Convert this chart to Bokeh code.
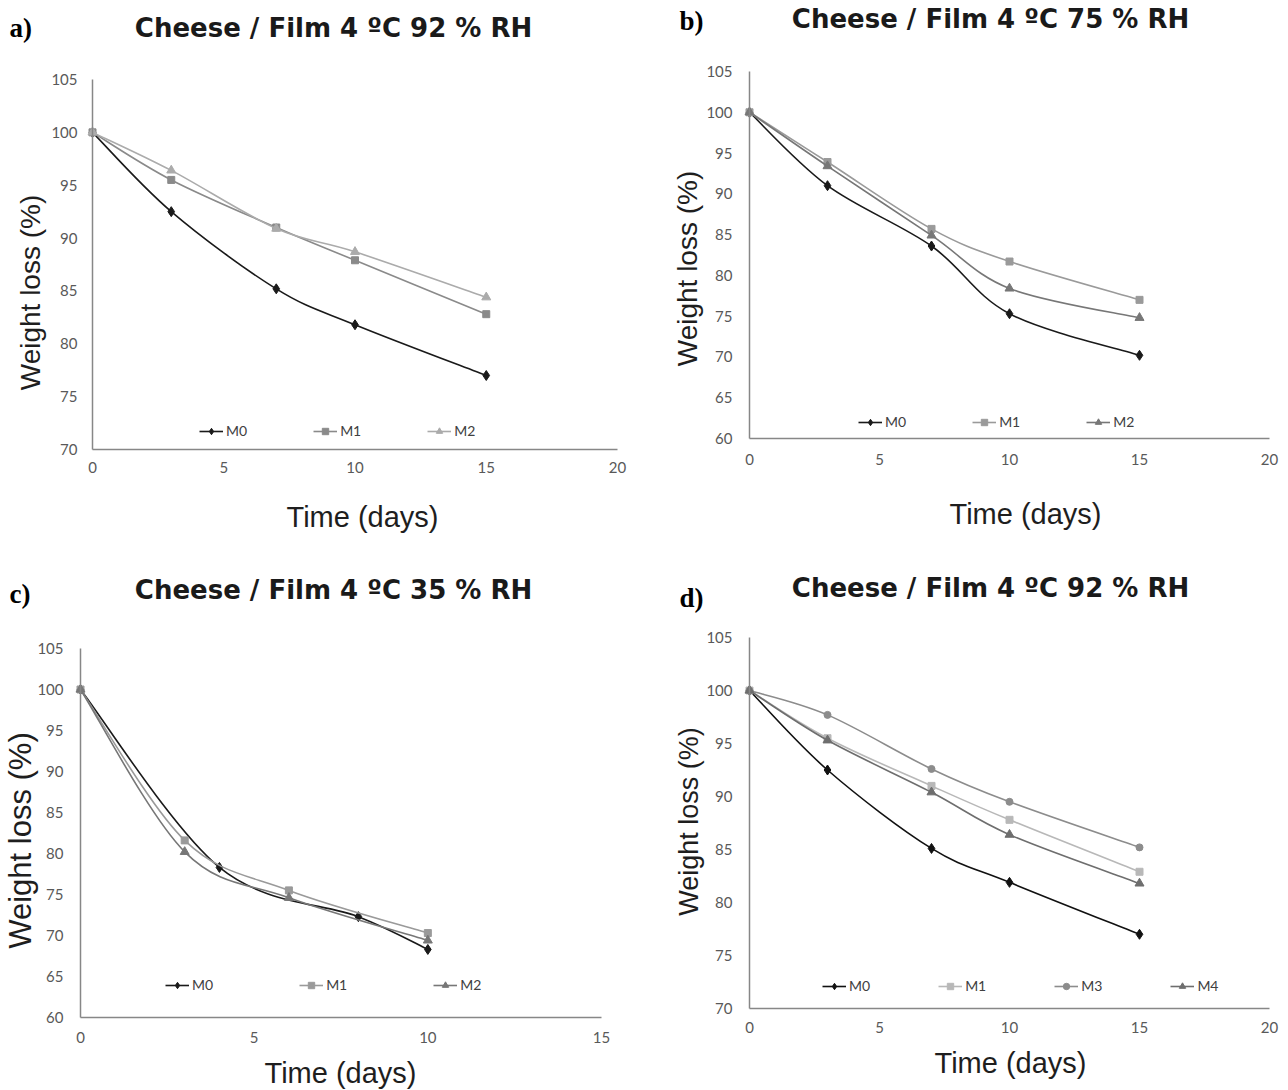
import numpy as np
from bokeh.plotting import figure
from bokeh.layouts import column, row
from bokeh.models import (Label, Legend, LegendItem, Range1d, FixedTicker,
                          ColumnDataSource, LinearAxis, Grid)
from bokeh.embed import file_html
from bokeh.resources import INLINE

# ---------------- data ----------------
# a) Cheese / Film 4 ºC 92 % RH
a_days = [0, 3, 7, 10, 15]
a_M0 = [100, 92.5, 85.2, 81.8, 77.0]
a_M1 = [100, 95.5, 91.0, 87.9, 82.8]
a_M2 = [100, 96.4, 90.9, 88.7, 84.4]

# b) Cheese / Film 4 ºC 75 % RH
b_days = [0, 3, 7, 10, 15]
b_M0 = [100, 91.0, 83.6, 75.3, 70.2]
b_M1 = [100, 93.9, 85.7, 81.7, 77.0]
b_M2 = [100, 93.4, 84.9, 78.4, 74.8]

# c) Cheese / Film 4 ºC 35 % RH
c_days_M0 = [0, 4, 8, 10]
c_M0 = [100, 78.3, 72.3, 68.3]
c_days_M1 = [0, 3, 6, 10]
c_M1 = [100, 81.6, 75.5, 70.3]
c_days_M2 = [0, 3, 6, 10]
c_M2 = [100, 80.2, 74.6, 69.4]

# d) Cheese / Film 4 ºC 92 % RH
d_days = [0, 3, 7, 10, 15]
d_M0 = [100, 92.5, 85.1, 81.9, 77.0]
d_M1 = [100, 95.5, 91.0, 87.8, 82.9]
d_M3 = [100, 97.7, 92.6, 89.5, 85.2]
d_M4 = [100, 95.3, 90.4, 86.4, 81.8]

x_ticks_20 = [0, 5, 10, 15, 20]
x_ticks_15 = [0, 5, 10, 15]
y_ticks_70 = [70, 75, 80, 85, 90, 95, 100, 105]
y_ticks_60 = [60, 65, 70, 75, 80, 85, 90, 95, 100, 105]

TITLE_FONT = "DejaVu Sans"
AXIS_FONT = "Liberation Sans"
TICK_FONT = "Lato"
YMAX = 105


def smooth_segments(xs, ys):
    """Bezier control points for an Excel-like smoothed line."""
    xs = np.asarray(xs, float)
    ys = np.asarray(ys, float)
    n = len(xs)
    d = dict(x0=[], y0=[], x1=[], y1=[], cx0=[], cy0=[], cx1=[], cy1=[])
    for i in range(n - 1):
        a0, a1 = max(i - 1, 0), min(i + 2, n - 1)
        d["x0"].append(xs[i]); d["y0"].append(ys[i])
        d["x1"].append(xs[i + 1]); d["y1"].append(ys[i + 1])
        d["cx0"].append(xs[i] + (xs[i + 1] - xs[a0]) / 6.0)
        d["cy0"].append(ys[i] + (ys[i + 1] - ys[a0]) / 6.0)
        d["cx1"].append(xs[i + 1] - (xs[a1] - xs[i]) / 6.0)
        d["cy1"].append(ys[i + 1] - (ys[a1] - ys[i]) / 6.0)
    return ColumnDataSource(d)


def make_panel(origin, size, frame, xmax, ymin, xticks, yticks, series, letter, letter_pos,
               title, title_pos, xlab_pos, ylab_pos, ylab_size, legend_xy, legend_spacing,
               x_standoff, y_standoff):
    ox, oy = origin
    W, H = size
    fl, fr, ft, fb = frame  # plot-area edges in page pixels
    ux = xmax / (fr - fl)
    uy = (YMAX - ymin) / (fb - ft)
    xr = Range1d(-(fl - ox) * ux, xmax + (ox + W - fr) * ux)
    yr = Range1d(ymin - (oy + H - fb) * uy, YMAX + (ft - oy) * uy)

    def X(px):
        return (px - fl) * ux

    def Y(py):
        return ymin + (fb - py) * uy

    p = figure(width=W, height=H, output_backend="svg", toolbar_location=None,
               x_range=xr, y_range=yr, x_axis_location=None, y_axis_location=None,
               min_border=0)
    p.outline_line_color = None
    p.background_fill_color = "white"
    p.center = [c for c in p.center if not isinstance(c, Grid)]

    xaxis = LinearAxis(fixed_location=ymin, bounds=(0, xmax), ticker=FixedTicker(ticks=xticks))
    yaxis = LinearAxis(fixed_location=0, bounds=(ymin, YMAX), ticker=FixedTicker(ticks=yticks))
    for ax, so in ((xaxis, x_standoff), (yaxis, y_standoff)):
        ax.axis_line_color = "#878787"
        ax.axis_line_width = 1.5
        ax.major_tick_line_color = None
        ax.minor_tick_line_color = None
        ax.major_tick_in = 0
        ax.major_tick_out = 0
        ax.minor_tick_out = 0
        ax.major_label_standoff = so
        ax.major_label_text_font = TICK_FONT
        ax.major_label_text_font_size = "15px"
        ax.major_label_text_color = "#595959"
    p.add_layout(xaxis, "below")
    p.add_layout(yaxis, "left")

    items = []
    for name, xs, ys, color, marker, msize in series:
        src = smooth_segments(xs, ys)
        br = p.bezier(x0="x0", y0="y0", x1="x1", y1="y1", cx0="cx0", cy0="cy0",
                      cx1="cx1", cy1="cy1", source=src, line_color=color, line_width=1.6)
        sr = p.scatter(xs, ys, marker=marker, size=msize, fill_color=color,
                       line_color=color)
        items.append(LegendItem(label=name, renderers=[br, sr]))

    leg = Legend(items=items, orientation="horizontal",
                 location=(legend_xy[0] - ox, oy + H - legend_xy[1]),
                 spacing=legend_spacing, padding=0, margin=0,
                 border_line_color=None, background_fill_alpha=0,
                 glyph_width=24, glyph_height=16, label_height=16,
                 label_standoff=3, label_text_font=TICK_FONT,
                 label_text_font_size="14px", label_text_color="#404040")
    p.add_layout(leg)

    def lab(text, px, py, **kw):
        p.add_layout(Label(x=X(px), y=Y(py), text=text, **kw))

    lab(letter, letter_pos[0], letter_pos[1], text_font="Liberation Serif",
        text_font_style="bold", text_font_size="27px", text_color="#000000",
        text_align="left", text_baseline="middle")
    lab(title, title_pos[0], title_pos[1], text_font=TITLE_FONT, text_font_style="bold",
        text_font_size="26px", text_color="#1a1a1a", text_align="center",
        text_baseline="middle")
    lab("Time (days)", xlab_pos[0], xlab_pos[1], text_font=AXIS_FONT,
        text_font_size="29px", text_color="#1e1e1e", text_align="center",
        text_baseline="middle")
    lab("Weight loss (%)", ylab_pos[0], ylab_pos[1], text_font=AXIS_FONT,
        text_font_size=ylab_size, text_color="#1e1e1e", text_align="center",
        text_baseline="middle", angle=np.pi / 2)
    return p


LW, RW, PH = 640, 648, 545

pa = make_panel(
    origin=(0, 0), size=(LW, PH), frame=(92, 617, 79, 449), xmax=20, ymin=70,
    xticks=x_ticks_20, yticks=y_ticks_70,
    series=[("M0", a_days, a_M0, "#1a1a1a", "diamond", 10),
            ("M1", a_days, a_M1, "#8a8a8a", "square", 7),
            ("M2", a_days, a_M2, "#ababab", "triangle", 9)],
    letter="a)", letter_pos=(9, 27), title="Cheese / Film 4 ºC 92 % RH",
    title_pos=(333, 27), xlab_pos=(362, 516), ylab_pos=(30, 292), ylab_size="28px",
    legend_xy=(199, 439), legend_spacing=66, x_standoff=12, y_standoff=15)

pb = make_panel(
    origin=(LW, 0), size=(RW, PH), frame=(749, 1269, 71, 438), xmax=20, ymin=60,
    xticks=x_ticks_20, yticks=y_ticks_60,
    series=[("M0", b_days, b_M0, "#1a1a1a", "diamond", 10),
            ("M1", b_days, b_M1, "#9a9a9a", "square", 7),
            ("M2", b_days, b_M2, "#777777", "triangle", 9)],
    letter="b)", letter_pos=(679, 20), title="Cheese / Film 4 ºC 75 % RH",
    title_pos=(990, 18), xlab_pos=(1025, 513), ylab_pos=(687, 268), ylab_size="28px",
    legend_xy=(858, 430), legend_spacing=66, x_standoff=15, y_standoff=17)

pc = make_panel(
    origin=(0, PH), size=(LW, PH), frame=(80, 601, 648, 1017), xmax=15, ymin=60,
    xticks=x_ticks_15, yticks=y_ticks_60,
    series=[("M0", c_days_M0, c_M0, "#1a1a1a", "diamond", 10),
            ("M1", c_days_M1, c_M1, "#9a9a9a", "square", 7),
            ("M2", c_days_M2, c_M2, "#777777", "triangle", 9)],
    letter="c)", letter_pos=(9, 593), title="Cheese / Film 4 ºC 35 % RH",
    title_pos=(333, 589), xlab_pos=(340, 1072), ylab_pos=(20, 840), ylab_size="31px",
    legend_xy=(165, 993), legend_spacing=86, x_standoff=14, y_standoff=17)

pd_ = make_panel(
    origin=(LW, PH), size=(RW, PH), frame=(749, 1269, 637, 1008), xmax=20, ymin=70,
    xticks=x_ticks_20, yticks=y_ticks_70,
    series=[("M0", d_days, d_M0, "#111111", "diamond", 10),
            ("M1", d_days, d_M1, "#b8b8b8", "square", 7),
            ("M3", d_days, d_M3, "#8c8c8c", "circle", 7),
            ("M4", d_days, d_M4, "#6e6e6e", "triangle", 9)],
    letter="d)", letter_pos=(679, 597), title="Cheese / Film 4 ºC 92 % RH",
    title_pos=(990, 587), xlab_pos=(1010, 1062), ylab_pos=(688, 821), ylab_size="27px",
    legend_xy=(822, 994), legend_spacing=68, x_standoff=13, y_standoff=17)

layout = column(row(pa, pb, spacing=0), row(pc, pd_, spacing=0), spacing=0)
open("out.html", "w").write(file_html(layout, INLINE))
